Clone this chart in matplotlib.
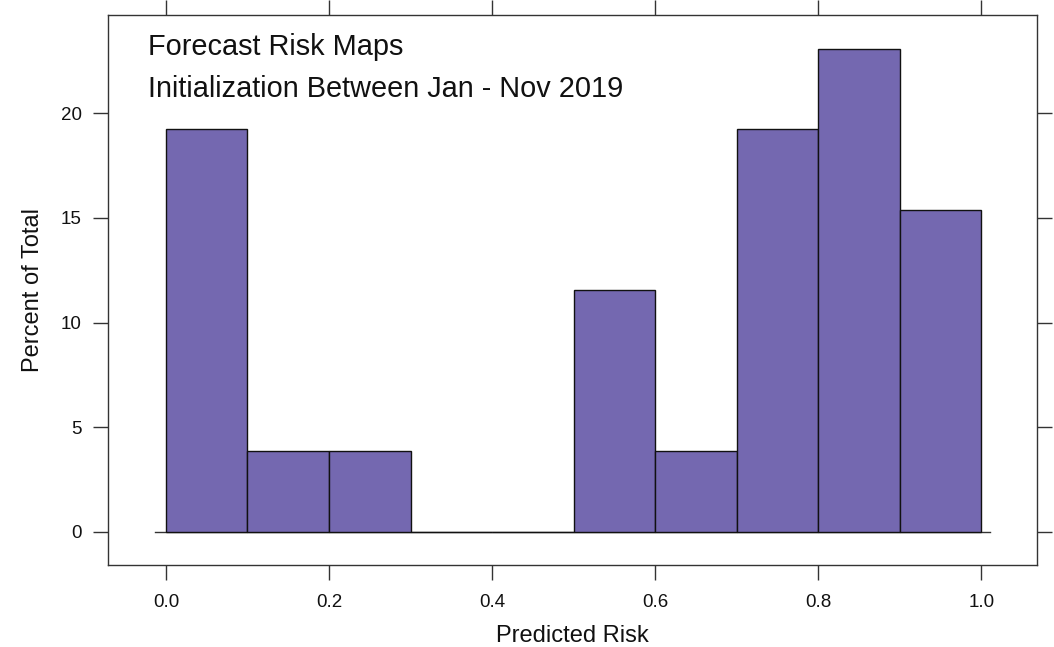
import numpy as np
import matplotlib
matplotlib.use('Agg')
import matplotlib.pyplot as plt

# histogram data (percent of total per bin)
bin_edges = [0.0, 0.1, 0.2, 0.3, 0.4, 0.5, 0.6, 0.7, 0.8, 0.9, 1.0]
bin_counts = [5, 1, 1, 0, 0, 3, 1, 5, 6, 4]
x_ticks = [0.0, 0.2, 0.4, 0.6, 0.8, 1.0]
y_ticks = [0, 5, 10, 15, 20]
title_lines = ['Forecast Risk Maps', 'Initialization Between Jan - Nov 2019']

plt.rcParams['font.family'] = ['Liberation Sans', 'DejaVu Sans']

counts = np.array(bin_counts, dtype=float)
pct = 100.0 * counts / counts.sum()
edges = np.array(bin_edges)
widths = np.diff(edges)

fig = plt.figure(figsize=(10.54, 6.47), dpi=100)
ax = fig.add_axes([0.1025, 0.1267, 0.8811, 0.8501])

frame_col = '#333333'
ax.bar(edges[:-1], pct, width=widths, align='edge', color='#7468b0',
       edgecolor='#111111', linewidth=1.0, zorder=2)
ax.plot([-0.0135, 1.011], [0, 0], color='#333333', linewidth=1.0, zorder=1)

ax.set_xlim(-0.071, 1.068)
ax.set_ylim(-1.58, 24.69)

ax.set_xticks(x_ticks)
ax.set_xticklabels(['%.1f' % v for v in x_ticks])
ax.set_yticks(y_ticks)
ax.tick_params(axis='both', direction='out', length=11, width=1.0,
               color=frame_col, labelsize=13.5, pad=8, labelcolor='#111111')
ax.tick_params(axis='x', top=True, labeltop=False, pad=10)
ax.tick_params(axis='y', right=True, labelright=False)
for s in ax.spines.values():
    s.set_color(frame_col)
    s.set_linewidth(1.0)

ax.set_xlabel('Predicted Risk', fontsize=17, labelpad=10, color='#111111')
ax.set_ylabel('Percent of Total', fontsize=17, labelpad=12, color='#111111')

ax.text(0.043, 0.927, title_lines[0], transform=ax.transAxes, fontsize=20.8,
        va='baseline', ha='left', color='#111111')
ax.text(0.043, 0.851, title_lines[1], transform=ax.transAxes, fontsize=20.8,
        va='baseline', ha='left', color='#111111')

fig.savefig('out.png', dpi=100)
